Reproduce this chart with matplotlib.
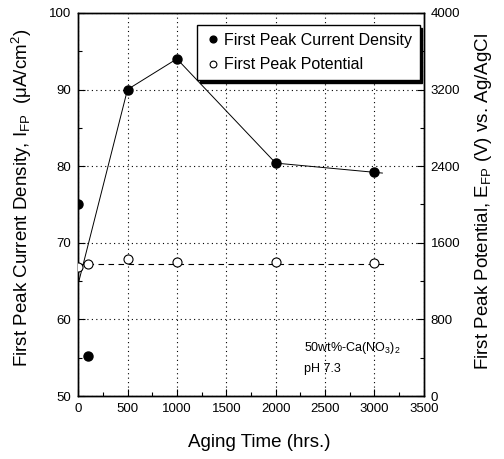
import matplotlib
matplotlib.use("Agg")
import matplotlib.pyplot as plt
from matplotlib.ticker import MultipleLocator

plt.rcParams['font.family'] = ['Liberation Sans', 'DejaVu Sans']
plt.rcParams['mathtext.fontset'] = 'custom'
plt.rcParams['mathtext.rm'] = 'Liberation Sans'
plt.rcParams['mathtext.it'] = 'Liberation Sans:italic'

# first peak current density (left axis)
time_cd = [0, 100, 500, 1000, 2000, 3000]
current = [75.1, 55.2, 90.0, 94.0, 80.4, 79.2]
# connecting line drawn in the original
line_t = [8, 500, 1000, 2000, 3080]
line_i = [65.0, 90.0, 94.0, 80.4, 79.1]

# first peak potential (right axis)
time_pot = [0, 100, 500, 1000, 2000, 3000]
potential = [1345, 1375, 1430, 1395, 1400, 1392]
mean_t = [0, 3110]
mean_pot = [1375, 1375]

fig = plt.figure(figsize=(5.04, 4.59), dpi=100)
ax = fig.add_axes([0.155, 0.137, 0.686, 0.835])
ax2 = ax.twinx()

ax.plot(line_t, line_i, color='black', lw=0.7, zorder=3)
h1, = ax.plot(time_cd, current, 'o', color='black', ms=6.5, zorder=4,
              label='First Peak Current Density')
ax2.plot(mean_t, mean_pot, color='black', lw=0.8, dashes=(5, 4), zorder=3)
h2, = ax2.plot(time_pot, potential, 'o', mfc='white', mec='black', mew=0.8,
               ms=6.5, zorder=4, label='First Peak Potential')

ax.set_xlim(0, 3500)
ax.set_ylim(50, 100)
ax2.set_ylim(0, 4000)
ax.xaxis.set_major_locator(MultipleLocator(500))
ax.xaxis.set_minor_locator(MultipleLocator(250))
ax.yaxis.set_major_locator(MultipleLocator(10))
ax.yaxis.set_minor_locator(MultipleLocator(5))
ax2.yaxis.set_major_locator(MultipleLocator(800))
ax2.yaxis.set_minor_locator(MultipleLocator(400))

ax.grid(True, which='major', color='black', lw=0.8, linestyle=(0, (1, 3)))
for a in (ax, ax2):
    a.tick_params(which='both', direction='in', labelsize=9.5, pad=5)
    a.tick_params(which='major', length=5, width=0.8)
    a.tick_params(which='minor', length=3, width=0.8)
    for s in a.spines.values():
        s.set_linewidth(1.0)

fig.text(0.515, 0.035, 'Aging Time (hrs.)', fontsize=13.5, ha='center', va='center')
fig.text(0.044, 0.569, r'First Peak Current Density, I$_{\mathrm{FP}}$  (μA/cm$^{2}$)',
         fontsize=13.5, rotation=90, ha='center', va='center')
fig.text(0.960, 0.561, r'First Peak Potential, E$_{\mathrm{FP}}$ (V) vs. Ag/AgCl',
         fontsize=13.5, rotation=90, ha='center', va='center')

ax.text(2290, 56.3, r'50wt%-Ca(NO$_3$)$_2$', fontsize=9, va='center')
ax.text(2290, 53.5, 'pH 7.3', fontsize=9, va='center')

leg = ax.legend(handles=[h1, h2], loc='upper right', bbox_to_anchor=(0.988, 0.969),
                fancybox=False, shadow={'color': 'black', 'alpha': 1},
                framealpha=1, edgecolor='black', fontsize=11.5, markerscale=0.75,
                handletextpad=0.25, handlelength=0.9, borderpad=0.5,
                borderaxespad=0, labelspacing=0.6)
leg.get_frame().set_linewidth(1.0)
leg.set_zorder(10)

fig.savefig('out.png', dpi=100)
